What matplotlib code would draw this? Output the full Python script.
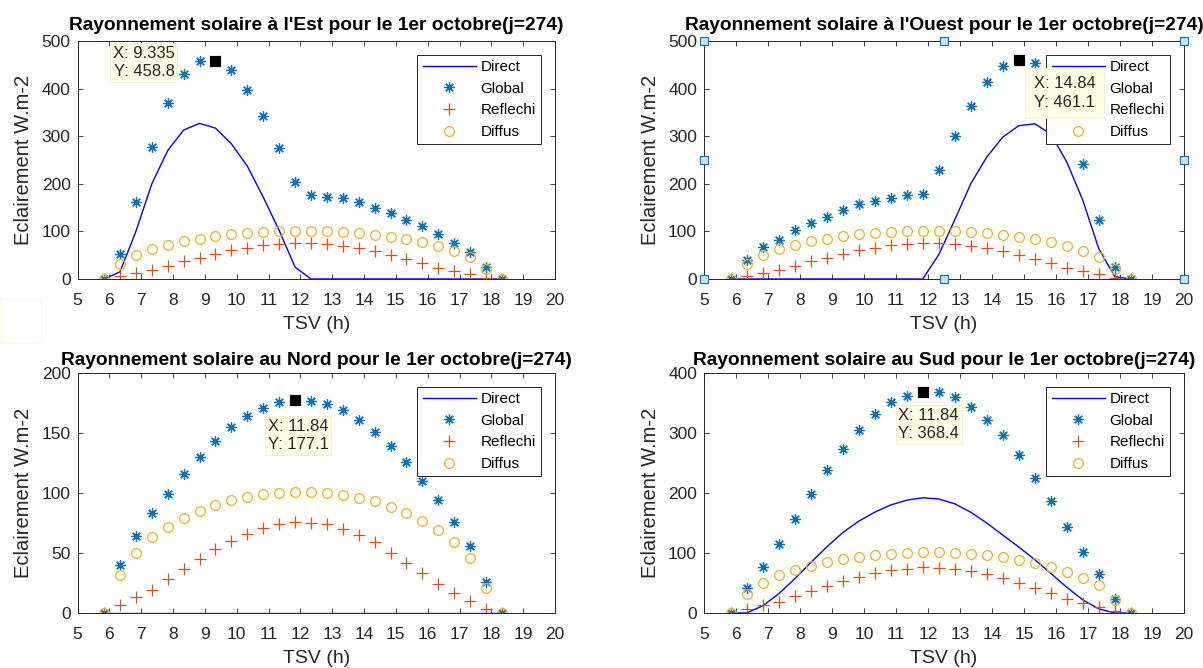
import matplotlib
matplotlib.use("Agg")
import matplotlib.pyplot as plt
from matplotlib.patches import Rectangle

plt.rcParams['font.family'] = ['Liberation Sans', 'DejaVu Sans']

# TSV (h) sample times
tsv = [5.835, 6.335, 6.835, 7.335, 7.835, 8.335, 8.835, 9.335, 9.835, 10.335,
       10.835, 11.335, 11.835, 12.335, 12.835, 13.335, 13.835, 14.335, 14.835,
       15.335, 15.835, 16.335, 16.835, 17.335, 17.835, 18.335]

# same reflected / diffuse part on every vertical wall
reflechi = [0, 6.6, 13, 19, 28, 37, 45, 53, 60, 66, 71, 74, 76, 75, 74, 70, 65,
            59, 50, 42, 33, 24, 17, 10, 3, 0]
diffus = [0, 32, 50, 63, 72, 79, 85, 90, 94, 97, 99, 100, 101, 101, 100, 98, 96,
          93, 88, 83, 77, 69, 59, 46, 21, 0]

est_direct = [0, 15, 100, 200, 270, 313, 327, 317, 284, 237, 172, 102, 25, 0, 0,
              0, 0, 0, 0, 0, 0, 0, 0, 0, 0, 0]
est_global = [0, 53, 162, 278, 370, 431, 459, 458.8, 440, 397, 342, 276, 203, 176,
              172, 170, 162, 150, 139, 125, 111, 95, 76, 56, 25, 0]

ouest_direct = [0, 0, 0, 0, 0, 0, 0, 0, 0, 0, 0, 0, 0, 51, 124, 200, 256, 298,
                322, 326, 305, 246, 166, 64, 5, 0]
ouest_global = [0, 40, 67, 82, 102, 118, 131, 146, 157, 164, 170, 177, 179, 228,
                301, 364, 414, 447, 461.1, 454, 415, 339, 242, 124, 26, 0]

nord_direct = [0, 0, 0, 0, 0, 0, 0, 0, 0, 0, 0, 0, 0, 0, 0, 0, 0, 0, 0, 0, 0, 0,
               0, 0, 0, 0]
nord_global = [0, 40, 64, 83, 99, 116, 130, 143, 155, 164, 171, 176, 177.1, 177,
               174, 169, 161, 151, 139, 126, 110, 94, 76, 56, 26, 0]

sud_direct = [0, 0, 12, 32, 57, 84, 110, 134, 153, 168, 180, 188, 192, 190, 182,
              168, 150, 130, 110, 89, 66, 43, 22, 7, 0, 0]
sud_global = [0, 41, 76, 115, 157, 199, 238, 274, 305, 331, 351, 362, 368.4, 368,
              360, 343, 322, 296, 263, 225, 186, 144, 102, 65, 24, 0]

titles = ["Rayonnement solaire à l'Est pour le 1er octobre(j=274)",
          "Rayonnement solaire à l'Ouest pour le 1er octobre(j=274)",
          "Rayonnement solaire au Nord pour le 1er octobre(j=274)",
          "Rayonnement solaire au Sud pour le 1er octobre(j=274)"]
directs = [est_direct, ouest_direct, nord_direct, sud_direct]
globals_ = [est_global, ouest_global, nord_global, sud_global]
ymax = [500, 500, 200, 400]
ystep = [100, 100, 50, 100]

# data tips (index of point, label)
tip_idx = [7, 18, 12, 12]
tip_txt = ["X: 9.335\nY: 458.8", "X: 14.84\nY: 461.1",
           "X: 11.84\nY: 177.1", "X: 11.84\nY: 368.4"]

W, H = 1203, 668
fig = plt.figure(figsize=(W / 100, H / 100), dpi=100)

# axes boxes in pixels: left, top, right, bottom
boxes = [(77.5, 41, 555, 279), (704, 41, 1184, 279),
         (77.5, 373, 555, 613), (704, 373, 1184, 613)]
title_pad = [8, 8, 6, 6]

dark = '#262626'
c_dir = '#0000ff'
c_glo = '#0072bd'
c_ref = '#d95319'
c_dif = '#edb120'

axes = []
for i in range(4):
    l, t, r, b = boxes[i]
    ax = fig.add_axes([l / W, 1 - b / H, (r - l) / W, (b - t) / H])
    axes.append(ax)
    ax.plot(tsv, directs[i], color=c_dir, lw=1.0, label='Direct')
    ax.plot(tsv, globals_[i], ls='none', marker=(8, 2, 0), ms=7.5, mew=0.9,
            color=c_glo, label='Global')
    ax.plot(tsv, reflechi, ls='none', marker='+', ms=8, mew=0.9,
            color=c_ref, label='Reflechi')
    ax.plot(tsv, diffus, ls='none', marker='o', ms=7, mew=0.9, mfc='none',
            mec=c_dif, label='Diffus')

    ax.set_xlim(5, 20)
    ax.set_ylim(0, ymax[i])
    ax.set_xticks(range(5, 21))
    ax.set_yticks(range(0, ymax[i] + 1, ystep[i]))
    ax.tick_params(direction='in', top=True, right=True, length=3.5, width=0.6,
                   labelsize=12.5, colors=dark)
    ax.tick_params(axis='x', pad=10)
    ax.tick_params(axis='y', pad=5)
    for s in ax.spines.values():
        s.set_color(dark)
        s.set_linewidth(0.7)
    ax.set_title(titles[i], fontsize=13.8, fontweight='bold', pad=title_pad[i])
    ax.set_xlabel('TSV (h)', fontsize=14, color=dark, labelpad=6)
    ax.set_ylabel('Eclairement W.m-2', fontsize=14.5, color=dark, labelpad=6)

    leg = ax.legend(loc='upper right', fontsize=11, handlelength=3.5,
                    handletextpad=0.3, labelspacing=0.5, borderpad=0.35,
                    borderaxespad=0.9, fancybox=False, framealpha=1)
    leg.get_frame().set_edgecolor(dark)
    leg.get_frame().set_linewidth(0.7)

# data tips: offset of text (points), alignment, box pad
tip_pos = [((-29.5, 10.8), 'right', 0.15), ((10.8, -12.2), 'left', 0.5),
           ((-19.8, -13), 'left', 0.15), ((-17.6, -11.2), 'left', 0.15)]
for i, ax in enumerate(axes):
    k = tip_idx[i]
    px, py = tsv[k], globals_[i][k]
    ax.plot(px, py, marker='s', ms=8.5, color='black', mec='#ffffe0', mew=0.6,
            zorder=6)
    off, ha, pad = tip_pos[i]
    ax.annotate(tip_txt[i], xy=(px, py), xytext=off,
                textcoords='offset points', ha=ha, va='top', fontsize=12,
                color=dark, linespacing=1.3, zorder=7,
                bbox=dict(boxstyle='square,pad=%s' % pad, fc='#ffffe6',
                          ec='#ececcc', lw=0.5))

# selection handles on the West axes
ax = axes[1]
hx = [5, 12.5, 20, 5, 20, 5, 12.5, 20]
hy = [500, 500, 500, 250, 250, 0, 0, 0]
ax.plot(hx, hy, ls='none', marker='s', ms=6, mfc='#c6e2f5', mec='#0072bd',
        mew=0.8, clip_on=False, zorder=8)

# faint leftover tip box at the left edge
fig.patches.append(Rectangle((0, 1 - 343 / H), 41 / W, 44 / H,
                             transform=fig.transFigure, fill=False,
                             ec='#fbfbe4', lw=0.8))

fig.savefig('out.png', dpi=100)
